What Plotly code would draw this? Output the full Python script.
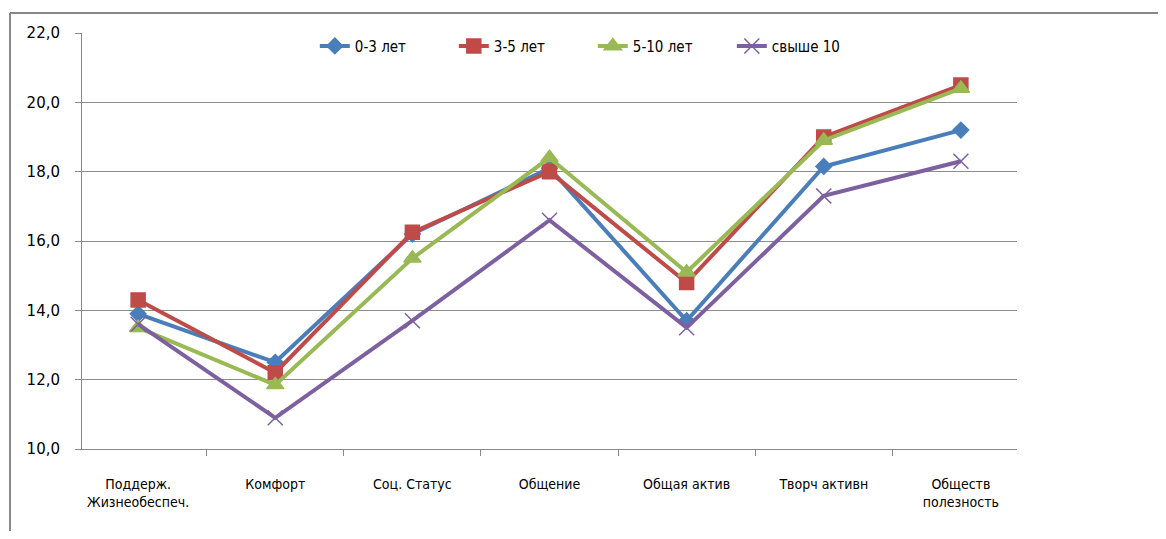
import plotly.graph_objects as go

categories = ["Поддерж.<br>Жизнеобеспеч.", "Комфорт", "Соц. Статус", "Общение",
              "Общая актив", "Творч активн", "Обществ<br>полезность"]
s_0_3 = [13.9, 12.5, 16.2, 18.1, 13.7, 18.15, 19.2]
s_3_5 = [14.3, 12.2, 16.25, 18.0, 14.8, 19.0, 20.5]
s_5_10 = [13.5, 11.85, 15.5, 18.4, 15.1, 18.9, 20.4]
s_10 = [13.6, 10.9, 13.7, 16.6, 13.5, 17.3, 18.3]
names = ["0-3 лет", "3-5 лет", "5-10 лет", "свыше 10"]
y_ticks = [10, 12, 14, 16, 18, 20, 22]

series = [s_0_3, s_3_5, s_5_10, s_10]
colors = ["#4A7EBB", "#BE4B48", "#98B954", "#7D60A0"]
symbols = ["diamond", "square", "triangle-up", "x-thin"]
sizes = [12, 14, 15, 15]

fig = go.Figure()
for vals, name, c, sym, sz in zip(series, names, colors, symbols, sizes):
    fig.add_trace(go.Scatter(
        x=categories, y=vals, name=name, mode="lines+markers",
        line=dict(color=c, width=4),
        marker=dict(symbol=sym, size=sz, color=c,
                    line=dict(color=c, width=1.5)),
    ))

W, H = 1150, 523
L, R, T, B = 74, 141, 25, 82
pw, ph = W - L - R, H - T - B

fig.update_layout(
    width=W, height=H,
    margin=dict(l=L, r=R, t=T, b=B, autoexpand=False),
    paper_bgcolor="white", plot_bgcolor="white",
    separators=", ",
    font=dict(family="DejaVu Sans Condensed, Liberation Sans", size=13, color="#000"),
    legend=dict(orientation="h", x=0.249, y=1.008, xanchor="left", yanchor="top",
                font=dict(family="DejaVu Sans Condensed, Liberation Sans", size=15),
                bgcolor="rgba(0,0,0,0)", entrywidth=94, tracegroupgap=0),
    showlegend=True,
)
fig.update_xaxes(
    type="category", showline=True, linecolor="#888", linewidth=1,
    ticks="outside", tickson="boundaries", ticklen=6, tickcolor="#888",
    showgrid=False, ticklabelstandoff=22,
    tickfont=dict(family="DejaVu Sans Condensed, Liberation Sans", size=14),
)
fig.update_yaxes(
    range=[10, 22], tickvals=y_ticks, tickformat=".1f",
    showline=True, linecolor="#888", linewidth=1,
    ticks="outside", ticklen=6, tickcolor="#888",
    showgrid=True, gridcolor="#8c8c8c", gridwidth=1, zeroline=False,
    tickfont=dict(family="DejaVu Sans, Liberation Sans", size=15),
    ticklabelstandoff=12,
)
x0 = (2 - L) / pw
y0 = (H - B - 5) / ph
fig.add_shape(type="line", xref="paper", yref="paper", x0=x0, x1=(W - L) / pw, y0=y0, y1=y0,
              line=dict(color="#888", width=2))
fig.add_shape(type="line", xref="paper", yref="paper", x0=x0, x1=x0, y0=y0, y1=-B / ph,
              line=dict(color="#888", width=2))

fig.write_html("out.html")
